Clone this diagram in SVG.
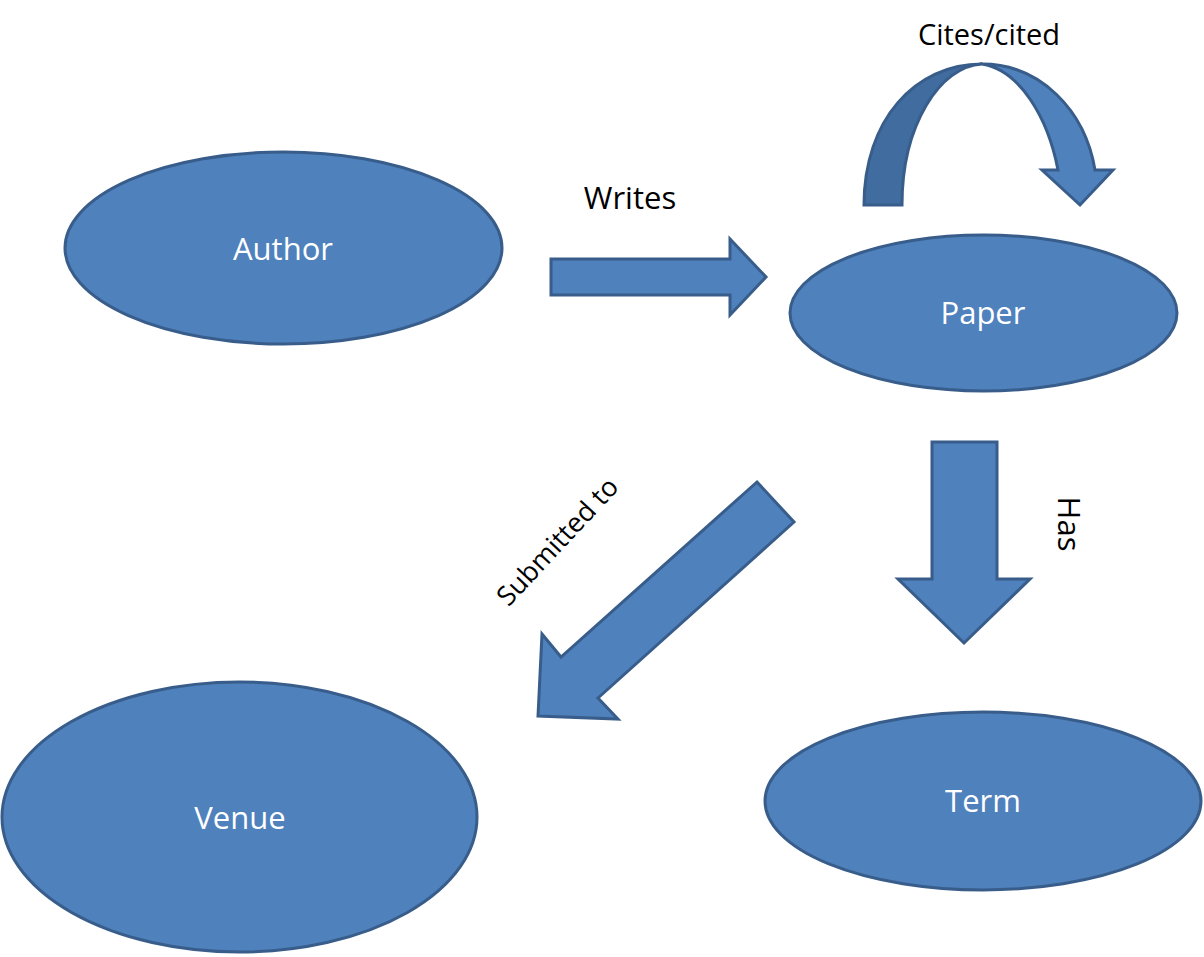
<svg xmlns="http://www.w3.org/2000/svg" width="1204" height="957" viewBox="0 0 1204 957">
<style>
.node{fill:#4f81bd;stroke:#385d8a;stroke-width:3}
.arrow{fill:#4f81bd;stroke:#385d8a;stroke-width:3;stroke-linejoin:miter}
.dark{fill:#416c9f;stroke:#385d8a;stroke-width:3}
.nt{font-family:"Open Sans","Liberation Sans",sans-serif;font-size:31px;fill:#ffffff;text-anchor:middle}
.lt{font-family:"Open Sans","Liberation Sans",sans-serif;font-size:31px;fill:#000000;text-anchor:middle}
</style>
<rect width="1204" height="957" fill="#ffffff"/>
<g id="connectors">
  <g id="writes">
    <path class="arrow" d="M551,259 L730,259 L730,239 L766,277 L730,315 L730,295 L551,295 Z"/>
    <text class="lt" x="630" y="209">Writes</text>
  </g>
  <g id="cites">
    <path class="dark" d="M864,205 C864,120 915,64 982,64 C940,66 902,125 902,205 Z"/>
    <path class="arrow" d="M982,64 C1040,64 1085,110 1095,170 L1113,170 L1080,205 L1042,170 L1058,170 C1048,118 1020,70 982,64 Z"/>
    <text class="lt" x="989" y="45" style="font-size:29px">Cites/cited</text>
  </g>
  <g id="has">
    <path class="arrow" d="M932,442 L997,442 L997,579 L1030,579 L964,643 L898,579 L932,579 Z"/>
    <text class="lt" transform="translate(1058,524) rotate(90)" x="0" y="0">Has</text>
  </g>
  <g id="submitted">
    <path class="arrow" d="M757,482 L794,522 L598,698 L618,719 L538,716 L542,634 L561,657 Z"/>
    <text class="lt" transform="translate(557,541) rotate(-47)" x="0" y="10" style="font-size:27px">Submitted to</text>
  </g>
</g>
<g id="author">
  <ellipse class="node" cx="283.5" cy="248" rx="218.5" ry="96"/>
  <text class="nt" x="283" y="260">Author</text>
</g>
<g id="paper">
  <ellipse class="node" cx="983.5" cy="313" rx="193.5" ry="78"/>
  <text class="nt" x="983" y="324">Paper</text>
</g>
<g id="venue">
  <ellipse class="node" cx="239.5" cy="817" rx="237.5" ry="135"/>
  <text class="nt" x="240" y="829">Venue</text>
</g>
<g id="term">
  <ellipse class="node" cx="983" cy="801" rx="218" ry="89"/>
  <text class="nt" x="983" y="812">Term</text>
</g>
</svg>
